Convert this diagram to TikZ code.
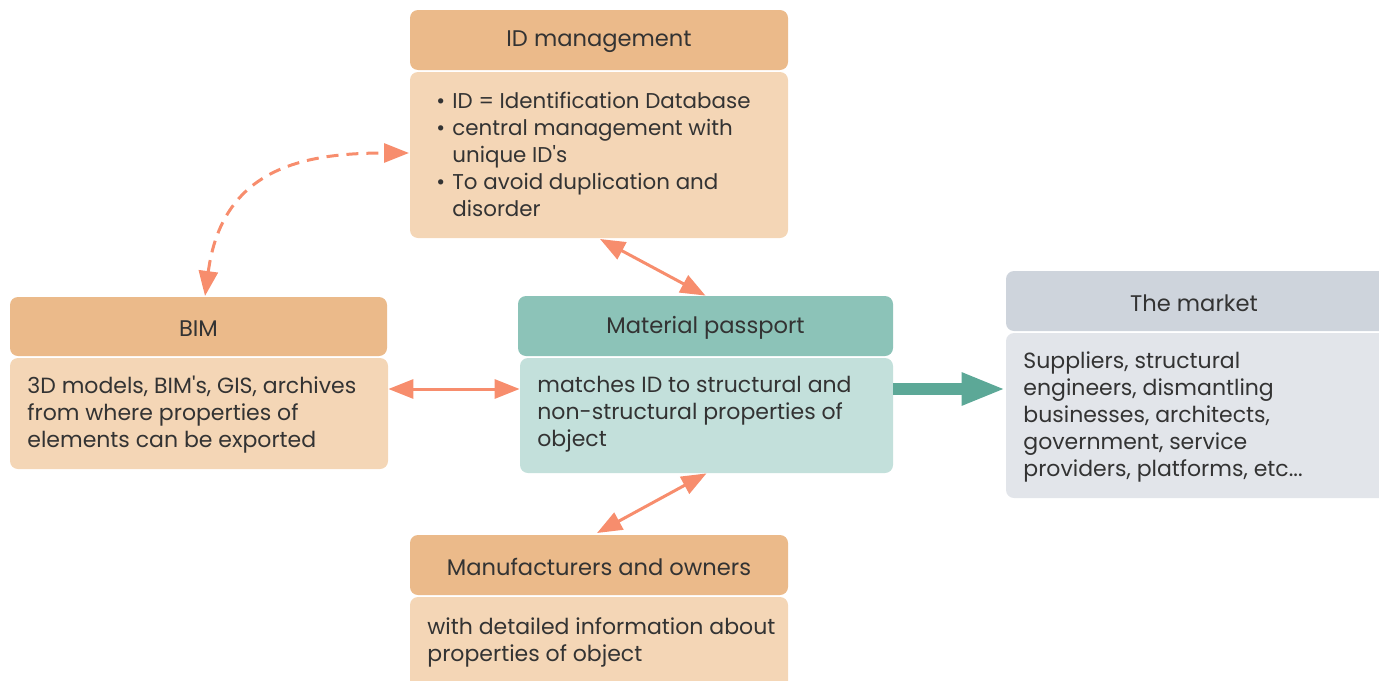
\documentclass[tikz,border=0pt]{standalone}
\usepackage{fontspec}
\setmainfont{Poppins}
\usetikzlibrary{arrows.meta}
\definecolor{hdrOrange}{HTML}{EBBA8A}
\definecolor{bodyOrange}{HTML}{F4D6B6}
\definecolor{hdrTeal}{HTML}{8CC3B8}
\definecolor{bodyTeal}{HTML}{C3E0DB}
\definecolor{hdrGray}{HTML}{CED4DC}
\definecolor{bodyGray}{HTML}{E2E5EA}
\definecolor{linkSalmon}{HTML}{F78D6D}
\definecolor{flowTeal}{HTML}{5CA897}
\definecolor{ink}{HTML}{333333}
\newcommand{\bul}{\makebox[8pt][l]{\textbullet}}
\newcommand{\apos}{\textquotesingle}
\tikzset{
  panel/.style={rectangle, rounded corners=4pt, inner sep=0pt, draw=none},
  hdrtext/.style={font=\fontsize{11.3pt}{13.5pt}\selectfont, text=ink, inner sep=0pt},
  bodytext/.style={font=\fontsize{11pt}{13.5pt}\selectfont, text=ink, inner sep=0pt, align=left, anchor=north west},
  link/.style={draw=linkSalmon, line width=1.5pt, {Triangle[length=12.5pt,width=9.5pt]}-{Triangle[length=12.5pt,width=9.5pt]}},
  dashlink/.style={draw=linkSalmon, line width=1.5pt, dash pattern=on 6pt off 4pt, {Triangle[length=12.5pt,width=9.5pt]}-{Triangle[length=12.5pt,width=9.5pt]}},
  flow/.style={draw=flowTeal, line width=6pt, -{Triangle[length=22pt,width=15pt]}}
}
\begin{document}
\begin{tikzpicture}[x=0.5pt,y=-0.5pt]
\useasboundingbox (0,0) rectangle (1379,680);

% ID management
\node[panel, fill=hdrOrange, minimum width=189pt, minimum height=30pt] (idH) at (599,40) {};
\node[hdrtext] (idHt) at (599,42) {ID management};
\node[panel, fill=bodyOrange, minimum width=189pt, minimum height=83pt] (idB) at (599,155) {};
\node[bodytext, font=\fontsize{10.7pt}{13.5pt}\selectfont] (idBt) at (436,92) {%
  \bul ID = Identification Database\\
  \bul central management with\\
  \hspace{8pt}unique ID\apos s\\
  \bul To avoid duplication and\\
  \hspace{8pt}disorder};

% BIM
\node[panel, fill=hdrOrange, minimum width=188.5pt, minimum height=29.5pt] (bimH) at (198.5,326.5) {};
\node[hdrtext] (bimHt) at (198.5,328.5) {BIM};
\node[panel, fill=bodyOrange, minimum width=189pt, minimum height=55.5pt] (bimB) at (199,413.5) {};
\node[bodytext] (bimBt) at (27,376) {%
  3D models, BIM\apos s, GIS, archives\\
  from where properties of\\
  elements can be exported};

% Material passport
\node[panel, fill=hdrTeal, minimum width=187.5pt, minimum height=30pt] (mpH) at (705.5,326) {};
\node[hdrtext] (mpHt) at (705.5,328) {Material passport};
\node[panel, fill=bodyTeal, minimum width=186.5pt, minimum height=57.5pt] (mpB) at (706.5,415.5) {};
\node[bodytext] (mpBt) at (537,376) {%
  matches ID to structural and\\
  non-structural properties of\\
  object};

% The market
\node[panel, fill=hdrGray, minimum width=192pt, minimum height=30pt] (mkH) at (1198,301) {};
\node[hdrtext] (mkHt) at (1194,303) {The market};
\node[panel, fill=bodyGray, minimum width=192pt, minimum height=82.5pt] (mkB) at (1198,415.5) {};
\node[bodytext] (mkBt) at (1023,351) {%
  Suppliers, structural\\
  engineers, dismantling\\
  businesses, architects,\\
  government, service\\
  providers, platforms, etc...};

% Manufacturers and owners
\node[panel, fill=hdrOrange, minimum width=189pt, minimum height=30pt] (mfH) at (599,565) {};
\node[hdrtext] (mfHt) at (599,567) {Manufacturers and owners};
\node[panel, fill=bodyOrange, minimum width=189pt, minimum height=46.5pt] (mfB) at (599,643.5) {};
\node[bodytext] (mfBt) at (427,617) {%
  with detailed information about\\
  properties of object};

% connectors
\coordinate (bimTop) at (205,296);
\coordinate (idLeft) at (409,153);
\draw[dashlink] (bimTop) .. controls (222,170) and (300,153) .. (idLeft);
\draw[link] (bimB.east |- 0,389) -- (mpB.west |- 0,389);
\draw[link] (600,239) -- (mpH.north);
\draw[link] (mpB.south) -- (597,533);
\draw[flow] (mpB.east |- 0,389) -- (mkB.west |- 0,389);
\end{tikzpicture}
\end{document}
